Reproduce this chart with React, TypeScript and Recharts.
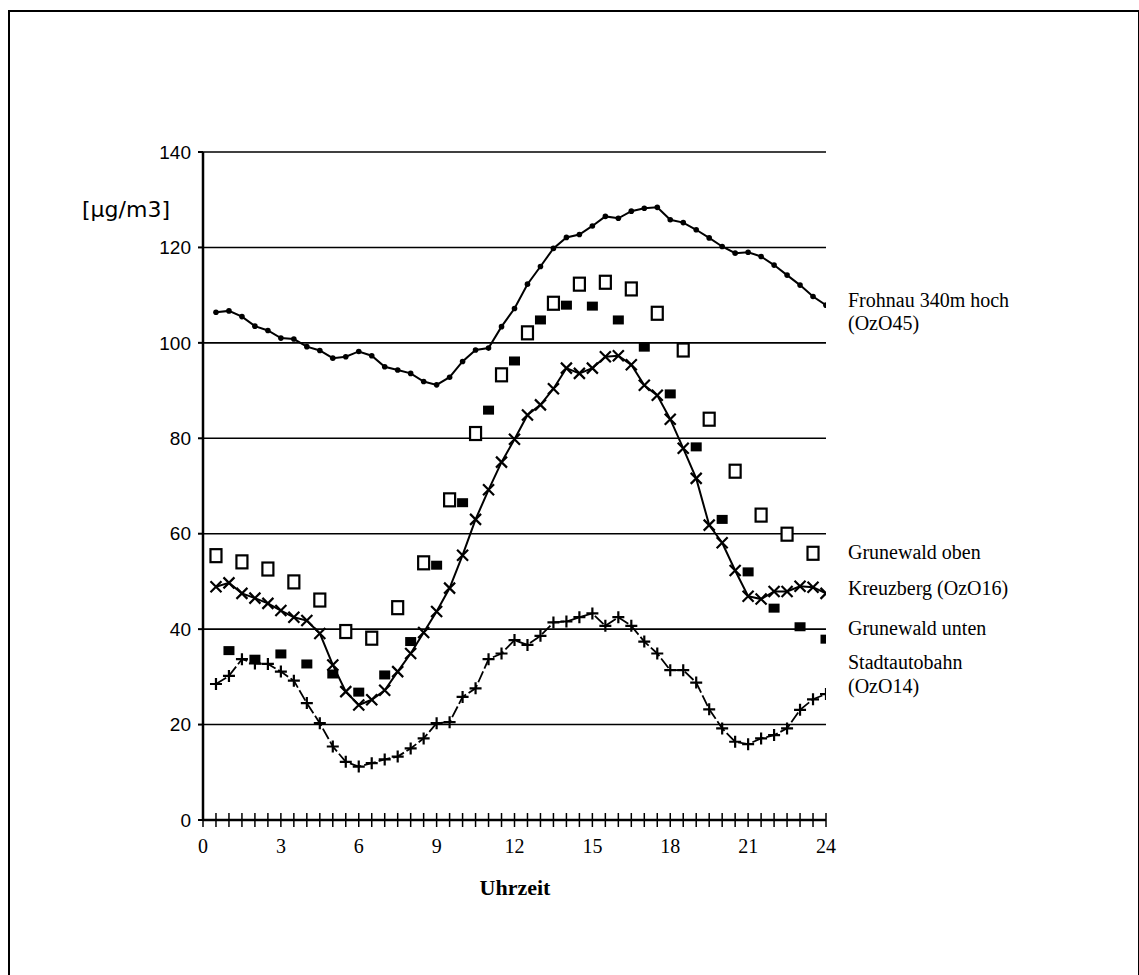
import React from 'react';
import { ComposedChart, Line, Scatter, XAxis, YAxis, CartesianGrid } from 'recharts';

// Half-hourly time stamps (hours)
const halfHours = [0.5, 1, 1.5, 2, 2.5, 3, 3.5, 4, 4.5, 5, 5.5, 6, 6.5, 7, 7.5, 8, 8.5, 9, 9.5, 10, 10.5, 11, 11.5, 12,
  12.5, 13, 13.5, 14, 14.5, 15, 15.5, 16, 16.5, 17, 17.5, 18, 18.5, 19, 19.5, 20, 20.5, 21, 21.5, 22, 22.5, 23, 23.5, 24];
const oddHalfHours = [0.5, 1.5, 2.5, 3.5, 4.5, 5.5, 6.5, 7.5, 8.5, 9.5, 10.5, 11.5, 12.5, 13.5, 14.5, 15.5, 16.5, 17.5,
  18.5, 19.5, 20.5, 21.5, 22.5, 23.5];
const wholeHours = [1, 2, 3, 4, 5, 6, 7, 8, 9, 10, 11, 12, 13, 14, 15, 16, 17, 18, 19, 20, 21, 22, 23, 24];

// Series values [µg/m3]
const frohnau = [106.4, 106.7, 105.5, 103.5, 102.6, 101.0, 100.8, 99.2, 98.4, 96.8, 97.1, 98.2, 97.3, 95.0, 94.3, 93.6,
  91.9, 91.2, 92.8, 96.1, 98.5, 98.9, 103.4, 107.2, 112.3, 116.0, 119.8, 122.1, 122.7, 124.5, 126.5, 126.1, 127.6, 128.2,
  128.4, 125.8, 125.2, 123.7, 122.0, 120.2, 118.8, 119.0, 118.1, 116.3, 114.2, 112.1, 109.7, 107.9];
const kreuzberg = [48.9, 49.7, 47.5, 46.5, 45.4, 43.9, 42.5, 41.8, 39.1, 32.5, 26.9, 24.1, 25.2, 27.2, 31.1, 34.9, 39.3,
  43.7, 48.6, 55.5, 63.0, 69.2, 75.0, 79.8, 84.9, 87.0, 90.4, 94.7, 93.6, 94.7, 97.1, 97.3, 95.4, 91.1, 89.0, 84.0, 77.9,
  71.6, 61.8, 58.1, 52.3, 46.9, 46.3, 47.9, 47.9, 49.0, 48.8, 47.5];
const stadtautobahn = [28.5, 30.2, 33.7, 32.8, 32.7, 31.1, 29.2, 24.5, 20.3, 15.4, 12.2, 11.2, 11.9, 12.7, 13.3, 15.0,
  17.1, 20.3, 20.5, 25.8, 27.6, 33.7, 34.9, 37.7, 36.7, 38.6, 41.4, 41.6, 42.5, 43.3, 40.7, 42.5, 40.7, 37.4, 34.9, 31.4,
  31.4, 28.8, 23.2, 19.2, 16.4, 15.9, 17.1, 17.8, 19.2, 23.1, 25.3, 26.4];
const grunewaldOben = [55.4, 54.1, 52.6, 49.9, 46.1, 39.5, 38.1, 44.5, 53.9, 67.1, 81.0, 93.3, 102.1, 108.3, 112.3, 112.7,
  111.3, 106.2, 98.5, 84.0, 73.1, 63.9, 59.9, 55.9];
const grunewaldUnten = [35.5, 33.7, 34.8, 32.7, 30.6, 26.8, 30.4, 37.4, 53.4, 66.5, 85.9, 96.2, 104.8, 107.9, 107.7, 104.8,
  99.1, 89.3, 78.2, 63.0, 52.0, 44.4, 40.5, 37.9];

// Axis ticks
const xTicks = [0, 0.5, 1, 1.5, 2, 2.5, 3, 3.5, 4, 4.5, 5, 5.5, 6, 6.5, 7, 7.5, 8, 8.5, 9, 9.5, 10, 10.5, 11, 11.5, 12,
  12.5, 13, 13.5, 14, 14.5, 15, 15.5, 16, 16.5, 17, 17.5, 18, 18.5, 19, 19.5, 20, 20.5, 21, 21.5, 22, 22.5, 23, 23.5, 24];
const xLabelTicks = [0, 3, 6, 9, 12, 15, 18, 21, 24];
const yTicks = [0, 20, 40, 60, 80, 100, 120, 140];

const toRows = (xs: number[], vs: number[]) => vs.map((v, i) => ({ t: xs[i], v }));
const frohnauData = toRows(halfHours, frohnau);
const kreuzbergData = toRows(halfHours, kreuzberg);
const stadtData = toRows(halfHours, stadtautobahn);
const obenData = toRows(oddHalfHours, grunewaldOben);
const untenData = toRows(wholeHours, grunewaldUnten);

const SERIF = '"Liberation Serif", "Times New Roman", serif';
const SANS = '"Liberation Sans", Arial, sans-serif';

const XTick = (props: any) => {
  const { x, y, payload } = props;
  const v = payload.value;
  const labelled = xLabelTicks.indexOf(v) >= 0;
  return (
    <g>
      <line x1={x} x2={x} y1={y - 7} y2={y + 7} stroke="#000" strokeWidth={1.5} />
      {labelled && (
        <text x={x} y={y + 33} textAnchor="middle" fontFamily={SERIF} fontSize={20} fill="#000">
          {v}
        </text>
      )}
    </g>
  );
};

const DotSmall = (props: any) => {
  const { cx, cy, index } = props;
  if (cx == null || cy == null) return <g key={`f${index}`} />;
  return <circle key={`f${index}`} cx={cx} cy={cy} r={2.8} fill="#000" />;
};

const DotX = (props: any) => {
  const { cx, cy, index } = props;
  if (cx == null || cy == null) return <g key={`k${index}`} />;
  const s = 5.5;
  return (
    <path key={`k${index}`} d={`M${cx - s},${cy - s}L${cx + s},${cy + s}M${cx - s},${cy + s}L${cx + s},${cy - s}`}
      stroke="#000" strokeWidth={2.2} fill="none" />
  );
};

const DotPlus = (props: any) => {
  const { cx, cy, index } = props;
  if (cx == null || cy == null) return <g key={`s${index}`} />;
  const s = 6;
  return (
    <path key={`s${index}`} d={`M${cx - s},${cy}L${cx + s},${cy}M${cx},${cy - s}L${cx},${cy + s}`}
      stroke="#000" strokeWidth={2.2} fill="none" />
  );
};

const OpenSquare = (props: any) => {
  const { cx, cy } = props;
  return <rect x={cx - 5.5} y={cy - 6.5} width={11} height={13} fill="#fff" stroke="#000" strokeWidth={2.2} />;
};

const FilledSquare = (props: any) => {
  const { cx, cy } = props;
  return <rect x={cx - 5.5} y={cy - 4.5} width={11} height={9} fill="#000" />;
};

const textStyle = (x: number, y: number, font: string, size: number, extra: any = {}) => ({
  position: 'absolute' as const,
  left: x,
  top: y,
  fontFamily: font,
  fontSize: size,
  lineHeight: 1,
  color: '#000',
  whiteSpace: 'nowrap' as const,
  ...extra,
});

export default function App() {
  return (
    <div style={{ position: 'absolute', left: 0, top: 0, width: 1139, height: 975, background: '#fff', overflow: 'hidden' }}>
      {/* outer frame */}
      <div style={{ position: 'absolute', left: 8, top: 10, width: 1128, height: 980, borderLeft: '2px solid #000', borderTop: '2px solid #000', borderRight: '1px solid #000' }} />
      <ComposedChart
        width={1139}
        height={975}
        margin={{ top: 152, right: 313, bottom: 115, left: 141 }}
        style={{ position: 'absolute', left: 0, top: 0 }}
      >
        <CartesianGrid horizontal vertical={false} stroke="#000" strokeWidth={1.6} />
        <XAxis
          dataKey="t"
          type="number"
          domain={[0, 24]}
          ticks={xTicks}
          interval={0}
          height={40}
          tickSize={0}
          tickMargin={0}
          tickLine={false}
          axisLine={{ stroke: '#000', strokeWidth: 2.5 }}
          tick={<XTick />}
          allowDataOverflow
        />
        <YAxis
          type="number"
          domain={[0, 140]}
          ticks={yTicks}
          interval={0}
          width={62}
          tickSize={5}
          tickMargin={7}
          tickLine={{ stroke: '#000', strokeWidth: 2 }}
          axisLine={{ stroke: '#000', strokeWidth: 2.5 }}
          tick={{ fill: '#000', fontFamily: SANS, fontSize: 19 }}
        />
        <Line data={frohnauData} dataKey="v" type="linear" stroke="#000" strokeWidth={2} dot={<DotSmall />}
          activeDot={false} isAnimationActive={false} />
        <Line data={kreuzbergData} dataKey="v" type="linear" stroke="#000" strokeWidth={2} dot={<DotX />}
          activeDot={false} isAnimationActive={false} />
        <Line data={stadtData} dataKey="v" type="linear" stroke="#000" strokeWidth={1.8} strokeDasharray="12 3"
          dot={<DotPlus />} activeDot={false} isAnimationActive={false} />
        <Scatter data={obenData} dataKey="v" shape={<OpenSquare />} isAnimationActive={false} />
        <Scatter data={untenData} dataKey="v" shape={<FilledSquare />} isAnimationActive={false} />
      </ComposedChart>

      {/* y-axis unit */}
      <div style={textStyle(0, 199, '"DejaVu Sans", sans-serif', 22, { width: 170, textAlign: 'right' })}>[µg/m3]</div>

      {/* x-axis title */}
      <div style={textStyle(415, 877, SERIF, 22, { width: 200, textAlign: 'center', fontWeight: 'bold' })}>Uhrzeit</div>

      {/* series labels */}
      <div style={textStyle(848, 290, SERIF, 20)}>Frohnau 340m hoch</div>
      <div style={textStyle(848, 313, SERIF, 20)}>(OzO45)</div>
      <div style={textStyle(848, 542, SERIF, 20)}>Grunewald oben</div>
      <div style={textStyle(848, 578, SERIF, 20)}>Kreuzberg (OzO16)</div>
      <div style={textStyle(848, 618, SERIF, 20)}>Grunewald unten</div>
      <div style={textStyle(848, 652, SERIF, 20)}>Stadtautobahn</div>
      <div style={textStyle(848, 676, SERIF, 20)}>(OzO14)</div>
    </div>
  );
}
